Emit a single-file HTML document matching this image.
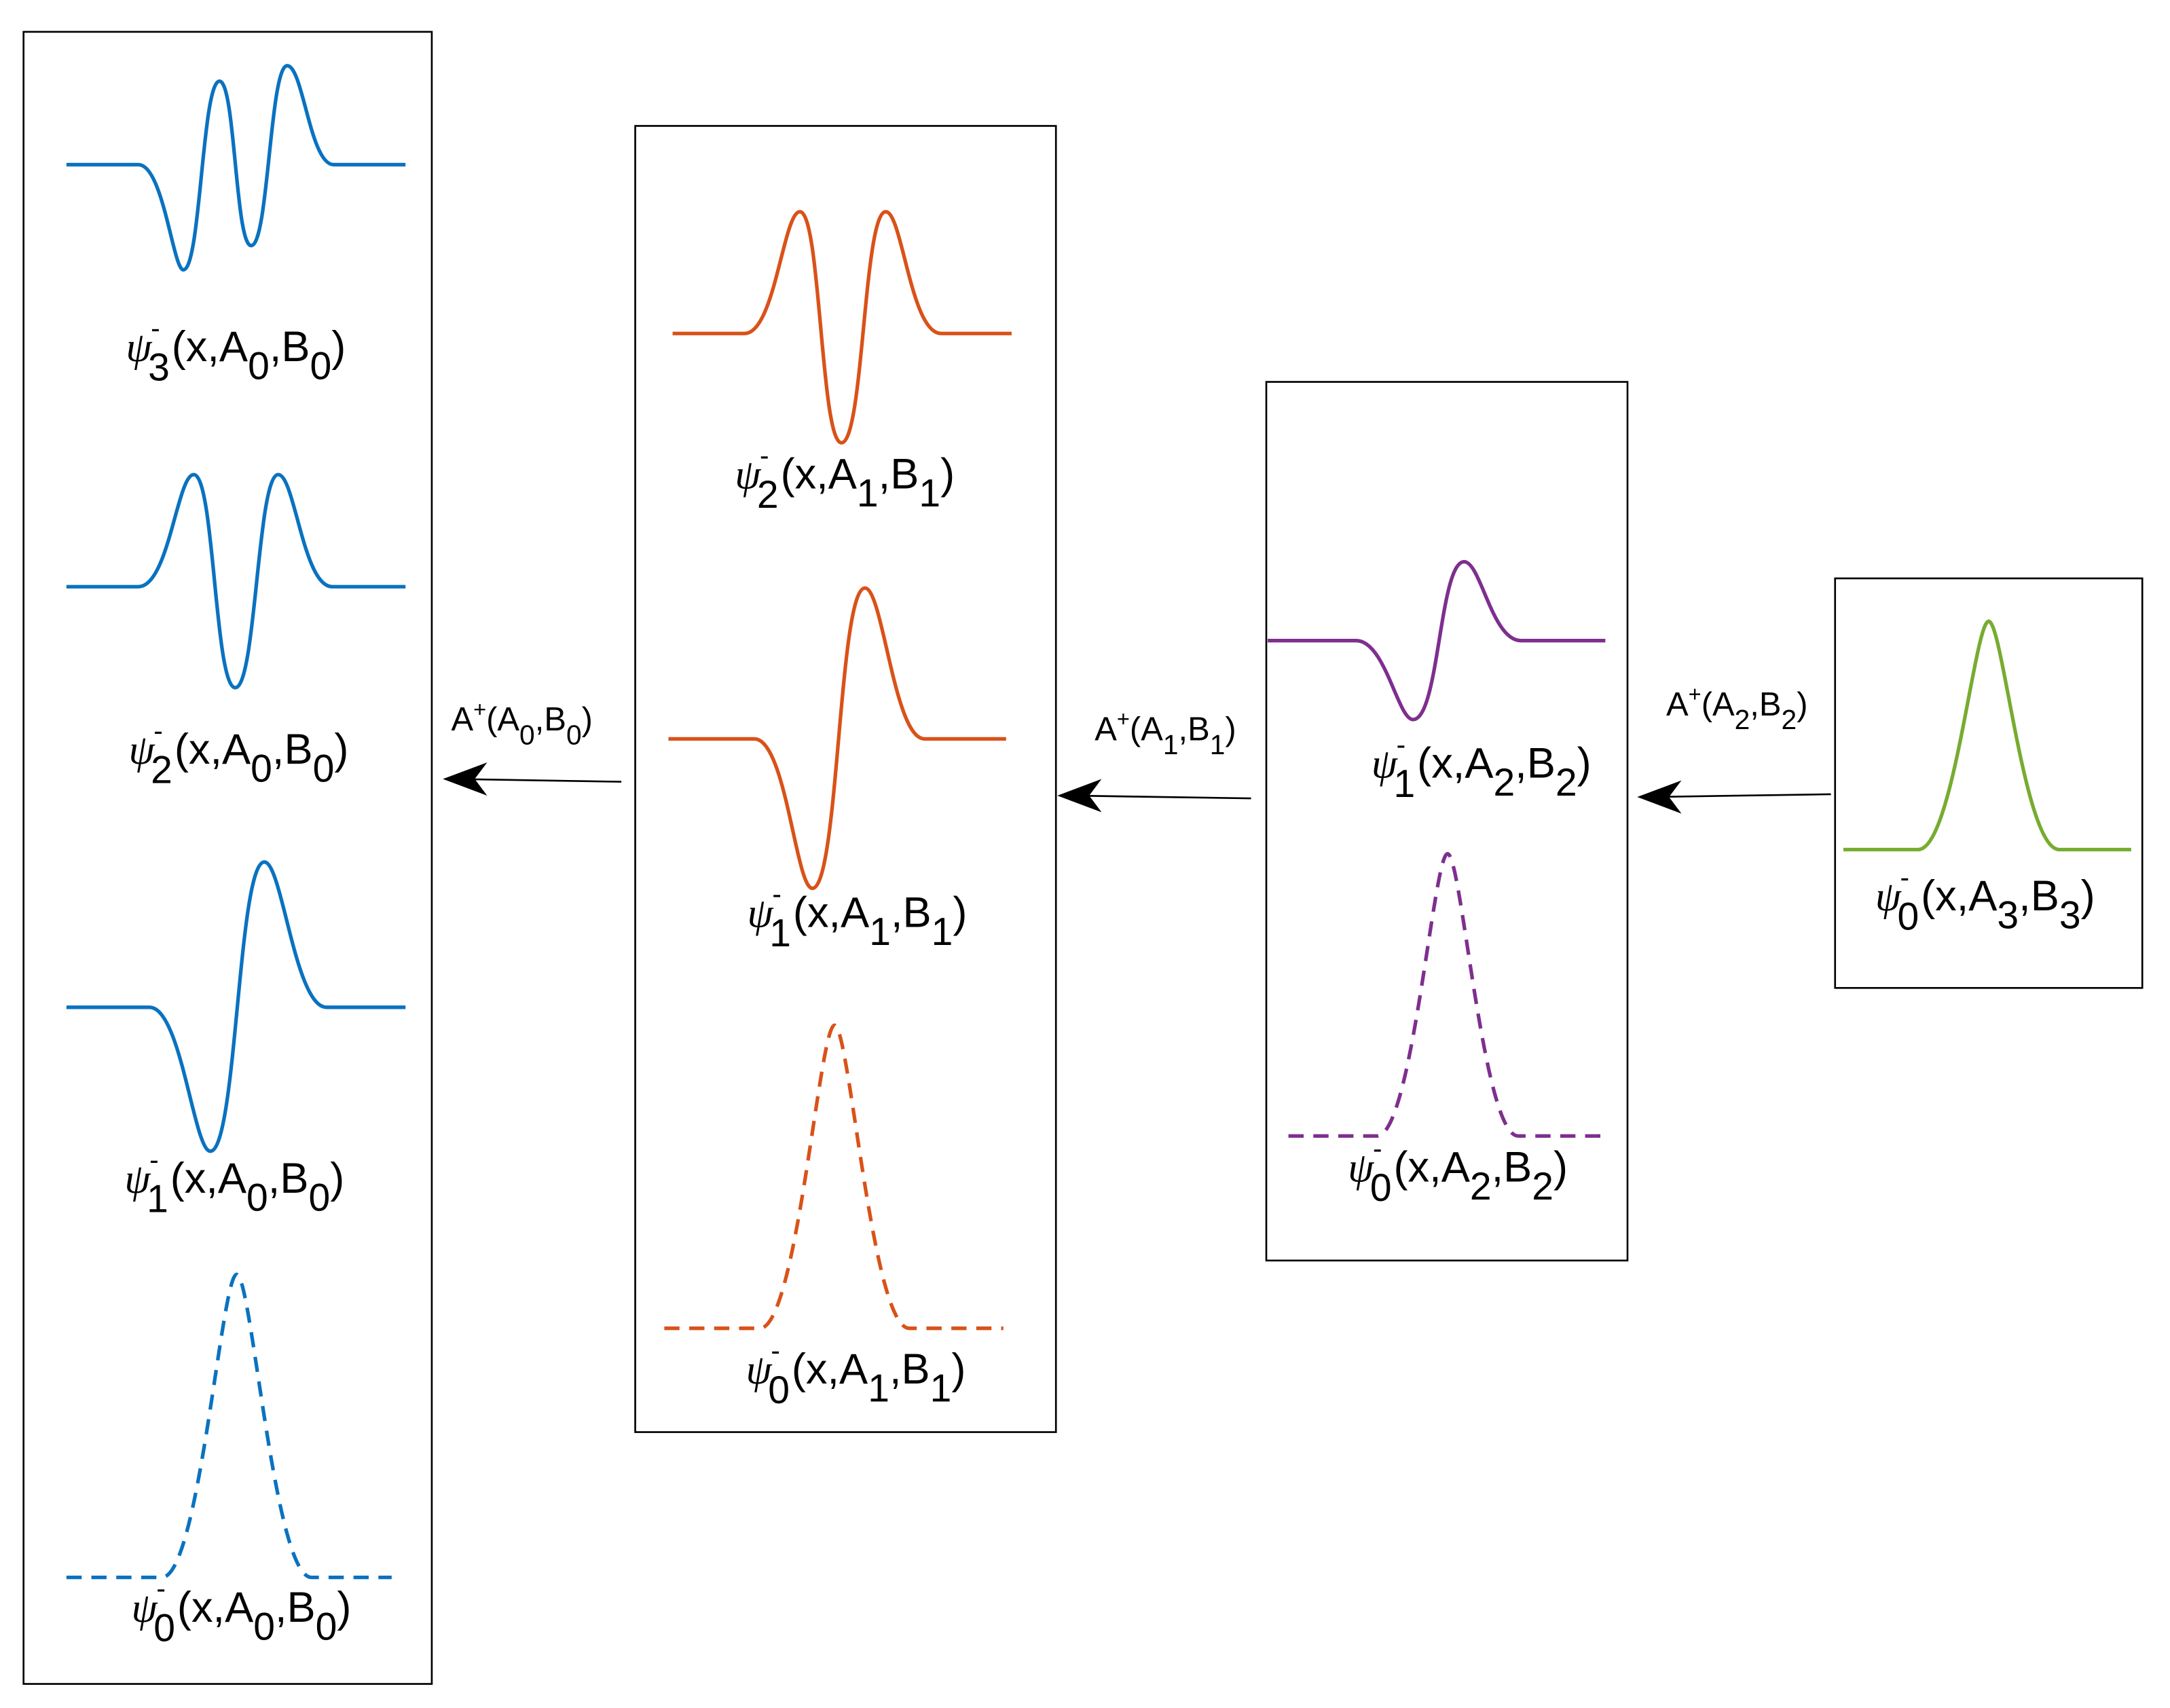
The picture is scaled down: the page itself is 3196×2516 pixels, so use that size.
<!DOCTYPE html>
<html><head><meta charset="utf-8">
<style>
html,body{margin:0;padding:0;background:#fff;}
svg{display:block;}
text{font-family:"Liberation Sans",sans-serif;fill:#000;}
.psi{font-family:"Liberation Serif",serif;font-style:italic;}
</style></head>
<body>
<svg width="3196" height="2516" viewBox="0 0 1568 1234.4" xmlns="http://www.w3.org/2000/svg">
<rect x="0" y="0" width="1568" height="1235" fill="#fff"/>
<g fill="none" stroke="#000" stroke-width="1.3">
<rect x="17" y="23" width="295" height="1194"/>
<rect x="459" y="91" width="304" height="944"/>
<rect x="915" y="276" width="261" height="635"/>
<rect x="1326" y="418" width="222" height="296"/>
</g>
<g fill="none" stroke-width="2.6" stroke-linejoin="round">
<g stroke="#0a72c0">
<path d="M48,119 L100,119 C118,119 125,195 132.5,195 C145,195 146,58.7 158.6,58.7 C170,58.7 170,177.5 181.5,177.5 C194,177.5 195,47.5 207.5,47.5 C219,47.5 224,119 241,119 L293,119"/>
<path d="M48,424 L100,424 C122,424 128,343 140,343 C155,343 155,497 170,497 C185,497 186,343 201,343 C213,343 219,424 240,424 L293,424"/>
<path d="M48,728 L108,728 C131,728 140,832 152,832 C171,832 172,623 191,623 C204,623 213,728 236,728 L293,728"/>
<path stroke-dasharray="11,7" d="M48,1140 L117,1140 C144,1140 160,921 171,921 C182,921 198,1140 225,1140 L283,1140"/>
</g>
<g stroke="#d95219">
<path d="M486,241 L538,241 C560,241 566,153 578,153 C593,153 593,320 608,320 C624,320 624,153 640,153 C652,153 658,241 680,241 L731,241"/>
<path d="M483,534 L545,534 C568,534 575,642 587,642 C606,642 606,425 625,425 C638,425 646,534 668,534 L727,534"/>
<path stroke-dasharray="11,7" d="M480,960 L549,960 C576,960 592,741 603,741 C614,741 630,960 657,960 L725,960"/>
</g>
<g stroke="#7e2f8e">
<path d="M916,463 L980,463 C1001,463 1010,520 1021,520 C1040,520 1040,406 1058,406 C1070,406 1078,463 1099,463 L1160,463"/>
<path stroke-dasharray="11,7" d="M931,821 L995,821 C1020.5,821 1035.8,617 1046,617 C1056.2,617 1071.5,821 1097,821 L1160,821"/>
</g>
<path stroke="#77ac30" d="M1332,614 L1386,614 C1411.5,614 1426.8,449 1437,449 C1447.2,449 1462.5,614 1488,614 L1540,614"/>
</g>
<g stroke="#000" stroke-width="1.3" fill="#000">
<line x1="449" y1="565" x2="330" y2="563"/>
<path d="M320,563 L352,551 L343,563 L352,575 Z" stroke="none"/>
<line x1="904" y1="577" x2="774" y2="575"/>
<path d="M764,575 L796,563 L787,575 L796,587 Z" stroke="none"/>
<line x1="1323" y1="574" x2="1193" y2="576"/>
<path d="M1183,576 L1215,564 L1206,576 L1215,588 Z" stroke="none"/>
</g>
<g font-size="24">
<text x="326" y="528">A<tspan dy="-10" font-size="16">+</tspan><tspan dy="10">(A</tspan><tspan dy="10" font-size="20">0</tspan><tspan dy="-10">,B</tspan><tspan dy="10" font-size="20">0</tspan><tspan dy="-10">)</tspan></text>
<text x="791" y="535">A<tspan dy="-10" font-size="16">+</tspan><tspan dy="10">(A</tspan><tspan dy="10" font-size="20">1</tspan><tspan dy="-10">,B</tspan><tspan dy="10" font-size="20">1</tspan><tspan dy="-10">)</tspan></text>
<text x="1204" y="517">A<tspan dy="-10" font-size="16">+</tspan><tspan dy="10">(A</tspan><tspan dy="10" font-size="20">2</tspan><tspan dy="-10">,B</tspan><tspan dy="10" font-size="20">2</tspan><tspan dy="-10">)</tspan></text>
</g>
<g font-size="31">
<text y="261"><tspan x="91" class="psi" font-size="30">ψ</tspan><tspan x="109" y="244" font-size="20">-</tspan><tspan x="107" y="275" font-size="28">3</tspan><tspan x="124" y="261">(x,A</tspan><tspan dy="13" font-size="28">0</tspan><tspan dy="-13">,B</tspan><tspan dy="13" font-size="28">0</tspan><tspan dy="-13">)</tspan></text>
<text y="552"><tspan x="93" class="psi" font-size="30">ψ</tspan><tspan x="111" y="535" font-size="20">-</tspan><tspan x="109" y="566" font-size="28">2</tspan><tspan x="126" y="552">(x,A</tspan><tspan dy="13" font-size="28">0</tspan><tspan dy="-13">,B</tspan><tspan dy="13" font-size="28">0</tspan><tspan dy="-13">)</tspan></text>
<text y="862"><tspan x="90" class="psi" font-size="30">ψ</tspan><tspan x="108" y="845" font-size="20">-</tspan><tspan x="106" y="876" font-size="28">1</tspan><tspan x="123" y="862">(x,A</tspan><tspan dy="13" font-size="28">0</tspan><tspan dy="-13">,B</tspan><tspan dy="13" font-size="28">0</tspan><tspan dy="-13">)</tspan></text>
<text y="1172"><tspan x="95" class="psi" font-size="30">ψ</tspan><tspan x="113" y="1155" font-size="20">-</tspan><tspan x="111" y="1186" font-size="28">0</tspan><tspan x="128" y="1172">(x,A</tspan><tspan dy="13" font-size="28">0</tspan><tspan dy="-13">,B</tspan><tspan dy="13" font-size="28">0</tspan><tspan dy="-13">)</tspan></text>
<text y="353"><tspan x="531" class="psi" font-size="30">ψ</tspan><tspan x="549" y="336" font-size="20">-</tspan><tspan x="547" y="367" font-size="28">2</tspan><tspan x="564" y="353">(x,A</tspan><tspan dy="13" font-size="28">1</tspan><tspan dy="-13">,B</tspan><tspan dy="13" font-size="28">1</tspan><tspan dy="-13">)</tspan></text>
<text y="670"><tspan x="540" class="psi" font-size="30">ψ</tspan><tspan x="558" y="653" font-size="20">-</tspan><tspan x="556" y="684" font-size="28">1</tspan><tspan x="573" y="670">(x,A</tspan><tspan dy="13" font-size="28">1</tspan><tspan dy="-13">,B</tspan><tspan dy="13" font-size="28">1</tspan><tspan dy="-13">)</tspan></text>
<text y="1000"><tspan x="539" class="psi" font-size="30">ψ</tspan><tspan x="557" y="983" font-size="20">-</tspan><tspan x="555" y="1014" font-size="28">0</tspan><tspan x="572" y="1000">(x,A</tspan><tspan dy="13" font-size="28">1</tspan><tspan dy="-13">,B</tspan><tspan dy="13" font-size="28">1</tspan><tspan dy="-13">)</tspan></text>
<text y="562"><tspan x="991" class="psi" font-size="30">ψ</tspan><tspan x="1009" y="545" font-size="20">-</tspan><tspan x="1007" y="576" font-size="28">1</tspan><tspan x="1024" y="562">(x,A</tspan><tspan dy="13" font-size="28">2</tspan><tspan dy="-13">,B</tspan><tspan dy="13" font-size="28">2</tspan><tspan dy="-13">)</tspan></text>
<text y="854"><tspan x="974" class="psi" font-size="30">ψ</tspan><tspan x="992" y="837" font-size="20">-</tspan><tspan x="990" y="868" font-size="28">0</tspan><tspan x="1007" y="854">(x,A</tspan><tspan dy="13" font-size="28">2</tspan><tspan dy="-13">,B</tspan><tspan dy="13" font-size="28">2</tspan><tspan dy="-13">)</tspan></text>
<text y="658"><tspan x="1355" class="psi" font-size="30">ψ</tspan><tspan x="1373" y="641" font-size="20">-</tspan><tspan x="1371" y="672" font-size="28">0</tspan><tspan x="1388" y="658">(x,A</tspan><tspan dy="13" font-size="28">3</tspan><tspan dy="-13">,B</tspan><tspan dy="13" font-size="28">3</tspan><tspan dy="-13">)</tspan></text>
</g>
</svg>
</body></html>
